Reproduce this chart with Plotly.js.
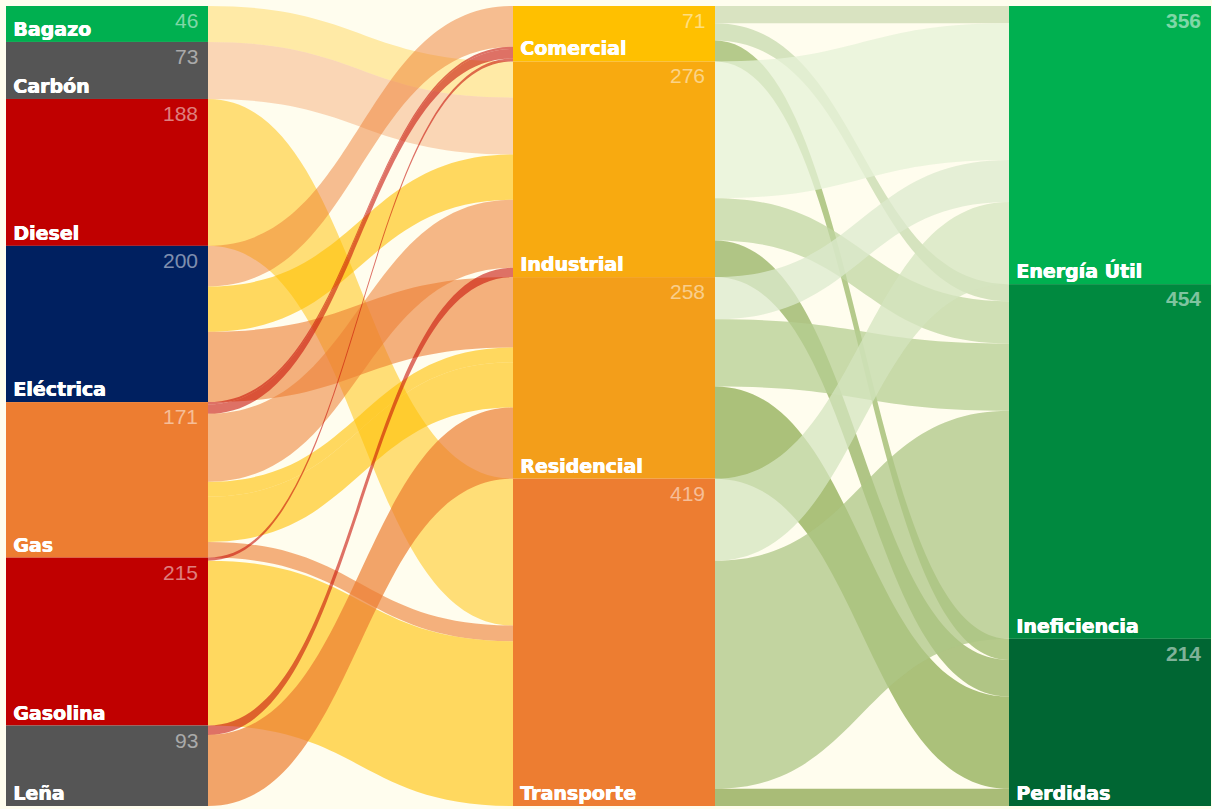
<!DOCTYPE html>
<html>
<head>
<meta charset="utf-8">
<script src="https://cdn.plot.ly/plotly-3.0.1.min.js"></script>
<style>html,body{margin:0;padding:0;background:#FFFDEE;}</style>
</head>
<body>
<div id="chart" style="width:1212px;height:809px;"></div>
<script>
// ---- data ----
const nodeNames = ['Bagazo','Carbón','Diesel','Eléctrica','Gas','Gasolina','Leña',
                   'Comercial','Industrial','Residencial','Transporte',
                   'Energía Útil','Ineficiencia','Perdidas'];
const nodeDisplayValues = [46,73,188,200,171,215,93, 71,276,258,419, 356,454,214];
const nodeColumn = [0,0,0,0,0,0,0, 1,1,1,1, 2,2,2];
const nodeColors = ['#00B050','#555555','#C00000','#002060','#ED7D31','#C00000','#555555',
                    '#FFC000','#F8AA10','#F39E1A','#ED7D31',
                    '#00B050','#00893F','#006633'];

const linkSource = [0,1,2, 3,3,3, 4,4,4,4,4,4, 5,5, 6,6,
                    7,7,7, 8,8,8, 9,9,9, 10,10,10];
const linkTarget = [8,8,10, 7,8,9, 7,7,9,8,9,10, 7,10, 8,9,
                    11,12,13, 11,12,13, 11,12,13, 11,12,13];
const linkValue  = [46,73,188, 52,58,90, 3,12,19,87,58,20, 4,211, 12,91,
                    22,22,27, 175,54,47, 54,86,118, 105,292,22];
const linkColor = [
  'rgba(255,192,0,0.3)','rgba(237,125,49,0.3)','rgba(255,192,0,0.5)',
  'rgba(237,125,49,0.5)','rgba(255,192,0,0.6)','rgba(237,125,49,0.6)',
  'rgba(200,20,10,0.6)','rgba(200,20,10,0.6)','rgba(255,192,0,0.6)','rgba(237,125,49,0.55)','rgba(255,192,0,0.6)','rgba(237,125,49,0.6)',
  'rgba(200,20,10,0.6)','rgba(255,192,0,0.6)',
  'rgba(200,20,10,0.6)','rgba(237,125,49,0.7)',
  'rgba(204,218,178,0.75)','rgba(199,217,174,0.75)','rgba(156,184,105,0.75)',
  'rgba(230,242,215,0.75)','rgba(192,213,162,0.75)','rgba(150,178,98,0.75)',
  'rgba(220,234,205,0.75)','rgba(182,205,145,0.75)','rgba(143,172,83,0.75)',
  'rgba(212,228,191,0.75)','rgba(174,197,134,0.75)','rgba(140,166,79,0.75)'
];

// ---- layout geometry ----
const W = 1205, H = 800, T = 202;
const colCenters = [101, 608, 1104];

// node flow (max of in / out)
const inSum = nodeNames.map(() => 0), outSum = nodeNames.map(() => 0);
linkValue.forEach((v, i) => { outSum[linkSource[i]] += v; inSum[linkTarget[i]] += v; });
const flow = nodeNames.map((_, i) => Math.max(inSum[i], outSum[i]));
const colTotal = [0,0,0];
flow.forEach((f, i) => colTotal[nodeColumn[i]] += f);
const colCursor = [0,0,0];
const nodeTop = [], nodeX = [], nodeY = [];
flow.forEach((f, i) => {
  const c = nodeColumn[i];
  nodeTop.push(colCursor[c] / colTotal[c]);
  nodeY.push((colCursor[c] + f / 2) / colTotal[c]);
  nodeX.push(colCenters[c] / W);
  colCursor[c] += f;
});

const annotations = [];
nodeNames.forEach((name, i) => {
  const c = nodeColumn[i];
  const left = (colCenters[c] - T / 2 + 5) / W;
  const right = (colCenters[c] + T / 2 - 8) / W;
  const bottom = 1 - (nodeTop[i] + flow[i] / colTotal[c]);
  annotations.push({
    xref: 'paper', yref: 'paper', x: left, y: bottom, xanchor: 'left', yanchor: 'bottom',
    yshift: 0, showarrow: false, text: name,
    font: {family: 'DejaVu Sans, sans-serif', size: 19, color: '#FFFFFF', weight: 'bold',
           shadow: '0.7px 0px 0px #FFFFFF, 0.35px 0.3px 0px #FFFFFF'}
  });
  annotations.push({
    xref: 'paper', yref: 'paper', x: right, y: 1 - nodeTop[i], xanchor: 'right', yanchor: 'top',
    yshift: -1, showarrow: false, text: String(nodeDisplayValues[i]),
    font: {family: 'Liberation Sans, Arial, sans-serif', size: 21, color: 'rgba(255,255,255,0.5)',
           weight: c === 2 ? 'bold' : 'normal'}
  });
});

const trace = {
  type: 'sankey',
  arrangement: 'fixed',
  domain: {x: [0, 1], y: [0, 1]},
  node: {
    label: nodeNames.map(() => ''),
    customdata: nodeNames,
    color: nodeColors,
    thickness: T,
    pad: 0,
    line: {width: 0},
    x: nodeX,
    y: nodeY,
    hovertemplate: '%{customdata}: %{value}<extra></extra>'
  },
  link: {
    source: linkSource,
    target: linkTarget,
    value: linkValue,
    color: linkColor,
    line: {width: 0}
  }
};

const layout = {
  width: 1212, height: 809,
  margin: {l: 6, r: 1, t: 6, b: 3, pad: 0},
  paper_bgcolor: '#FFFDEE',
  plot_bgcolor: '#FFFDEE',
  font: {family: 'DejaVu Sans, sans-serif'},
  annotations: annotations,
  showlegend: false
};

Plotly.newPlot('chart', [trace], layout, {displayModeBar: false, staticPlot: false});
</script>
</body>
</html>
